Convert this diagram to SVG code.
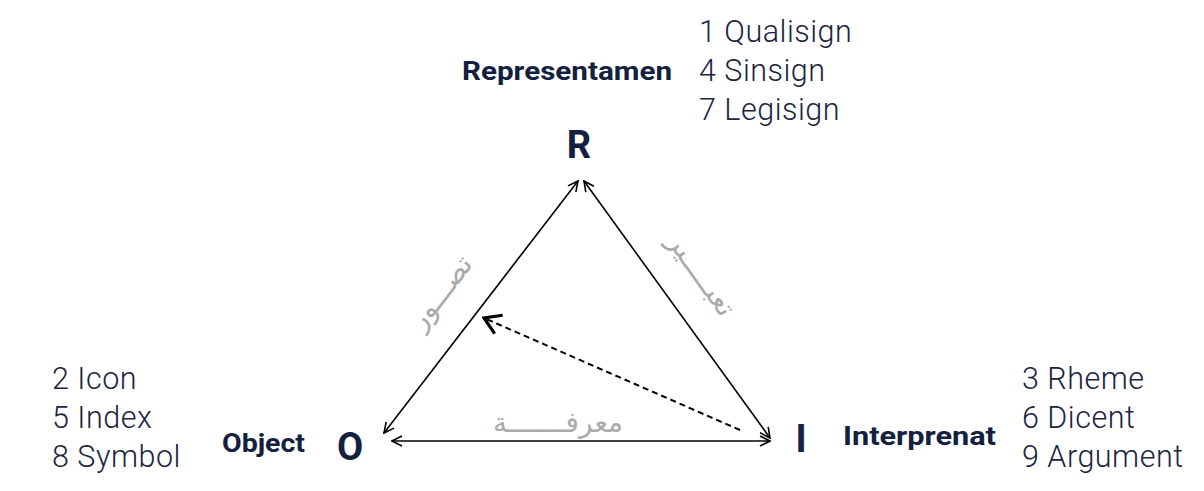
<svg xmlns="http://www.w3.org/2000/svg" width="1204" height="491" viewBox="0 0 1204 491">
<defs>
<style>
.lst{font-family:Roboto,"Liberation Sans",sans-serif;font-weight:300;font-size:30.5px;fill:#1b2440;letter-spacing:0.5px}
.lbl{font-family:Roboto,"Liberation Sans",sans-serif;font-weight:700;font-size:26px;fill:#13203f}
.big{font-family:Roboto,"Liberation Sans",sans-serif;font-weight:700;font-size:38px;fill:#13203f}
.ar{font-family:"DejaVu Sans",sans-serif;font-size:28px;fill:#aaaaaa}
.edge{stroke:#000;stroke-width:1.6;fill:none}
</style>
<marker id="ah" viewBox="0 0 12 12" refX="11" refY="6" markerWidth="12" markerHeight="12" markerUnits="userSpaceOnUse" orient="auto-start-reverse">
<path d="M1,1 L11,6 L1,11" fill="none" stroke="#000" stroke-width="1.6"/>
</marker>
<marker id="ahb" viewBox="0 0 20 24" refX="18" refY="12" markerWidth="20" markerHeight="24" markerUnits="userSpaceOnUse" orient="auto">
<path d="M2,2 L18,12 L2,22" fill="none" stroke="#000" stroke-width="3.2" stroke-linejoin="miter"/>
</marker>
</defs>
<rect width="1204" height="491" fill="#fff"/>
<g id="connectors">
<line class="edge" x1="578" y1="181" x2="384" y2="433" marker-start="url(#ah)" marker-end="url(#ah)"/>
<line class="edge" x1="584" y1="181" x2="770" y2="438" marker-start="url(#ah)" marker-end="url(#ah)"/>
<line class="edge" x1="392" y1="441" x2="770" y2="441" marker-start="url(#ah)" marker-end="url(#ah)"/>
<line x1="740" y1="430" x2="484" y2="318" stroke="#000" stroke-width="2" stroke-dasharray="6,4" marker-end="url(#ahb)"/>
<text class="ar" transform="translate(448,298) rotate(-52.4)" text-anchor="middle">تصـــور</text>
<text class="ar" transform="translate(694,280) rotate(54.4)" text-anchor="middle">تعبـــــير</text>
<text class="ar" x="558" y="432" text-anchor="middle">معرفـــــــة</text>
</g>
<g id="node-R">
<text class="big" x="579" y="158" text-anchor="middle">R</text>
<text class="lbl" x="462" y="80" textLength="210" lengthAdjust="spacingAndGlyphs">Representamen</text>
<text class="lst" x="699" y="42">1 Qualisign</text>
<text class="lst" x="699" y="81">4 Sinsign</text>
<text class="lst" x="699" y="120">7 Legisign</text>
</g>
<g id="node-O">
<text class="big" x="350" y="460" text-anchor="middle">O</text>
<text class="lbl" x="222" y="452" textLength="83" lengthAdjust="spacingAndGlyphs">Object</text>
<text class="lst" x="52" y="389">2 Icon</text>
<text class="lst" x="52" y="428">5 Index</text>
<text class="lst" x="52" y="467">8 Symbol</text>
</g>
<g id="node-I">
<text class="big" x="801" y="452" text-anchor="middle">I</text>
<text class="lbl" x="843" y="445" textLength="153" lengthAdjust="spacingAndGlyphs">Interprenat</text>
<text class="lst" x="1022" y="389">3 Rheme</text>
<text class="lst" x="1022" y="428">6 Dicent</text>
<text class="lst" x="1022" y="467">9 Argument</text>
</g>
</svg>
